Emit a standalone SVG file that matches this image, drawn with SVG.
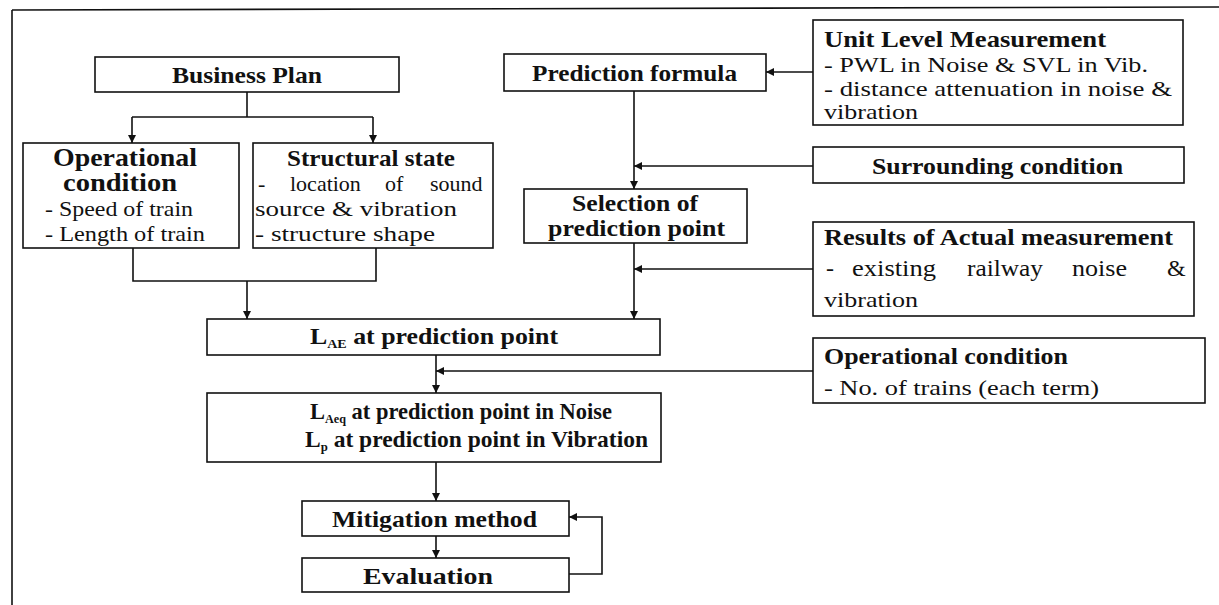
<svg xmlns="http://www.w3.org/2000/svg" width="1219" height="605" viewBox="0 0 1219 605">
<style>
.box{fill:#fff;stroke:#111;stroke-width:1.6}
.c{fill:none;stroke:#111;stroke-width:1.6}
.b{font-family:"Liberation Serif","Times New Roman",Tinos,serif;font-weight:bold;font-size:24px;fill:#111}
.r{font-family:"Liberation Serif","Times New Roman",Tinos,serif;font-size:22px;fill:#111}
.s{font-size:13px}
</style>
<defs>
<marker id="ah" viewBox="0 0 10 10" refX="10" refY="5" markerWidth="8" markerHeight="8" markerUnits="userSpaceOnUse" orient="auto">
<path d="M0,0 L10,5 L0,10 z" fill="#111"/>
</marker>
</defs>
<rect width="1219" height="605" fill="#fff"/>
<g id="frame" class="c">
<line x1="12" y1="10" x2="1219" y2="7"/>
<line x1="12" y1="10" x2="12" y2="605"/>
</g>
<g id="connectors" class="c">
<line x1="247" y1="92" x2="247" y2="117"/>
<line x1="132" y1="117" x2="373" y2="117"/>
<line x1="132" y1="117" x2="132" y2="143" marker-end="url(#ah)"/>
<line x1="373" y1="117" x2="373" y2="143" marker-end="url(#ah)"/>
<polyline points="133,248 133,281 376,281 376,248"/>
<line x1="247" y1="281" x2="247" y2="319" marker-end="url(#ah)"/>
<line x1="813" y1="72" x2="766" y2="72" marker-end="url(#ah)"/>
<line x1="634" y1="91" x2="634" y2="189" marker-end="url(#ah)"/>
<line x1="813" y1="166" x2="634" y2="166" marker-end="url(#ah)"/>
<line x1="634" y1="243" x2="634" y2="319" marker-end="url(#ah)"/>
<line x1="813" y1="269" x2="634" y2="269" marker-end="url(#ah)"/>
<line x1="436" y1="355" x2="436" y2="393" marker-end="url(#ah)"/>
<line x1="813" y1="371" x2="436" y2="371" marker-end="url(#ah)"/>
<line x1="436" y1="462" x2="436" y2="501" marker-end="url(#ah)"/>
<line x1="436" y1="536" x2="436" y2="558" marker-end="url(#ah)"/>
<polyline points="569,574 602,574 602,517 569,517" marker-end="url(#ah)"/>
</g>
<g id="business-plan">
<rect class="box" x="95" y="57" width="304" height="35"/>
<text class="b" x="172" y="83" textLength="150" lengthAdjust="spacingAndGlyphs">Business Plan</text>
</g>
<g id="operational-condition">
<rect class="box" x="23" y="143" width="216" height="105"/>
<text class="b" x="53" y="166" textLength="144" lengthAdjust="spacingAndGlyphs" style="font-size:25px">Operational</text>
<text class="b" x="63" y="191" textLength="114" lengthAdjust="spacingAndGlyphs" style="font-size:25px">condition</text>
<text class="r" x="45" y="216" textLength="148" lengthAdjust="spacingAndGlyphs">- Speed of train</text>
<text class="r" x="45" y="241" textLength="160" lengthAdjust="spacingAndGlyphs">- Length of train</text>
</g>
<g id="structural-state">
<rect class="box" x="253" y="143" width="240" height="105"/>
<text class="b" x="287" y="166" textLength="168" lengthAdjust="spacingAndGlyphs">Structural state</text>
<text class="r" y="191"><tspan x="258">-</tspan><tspan x="290">location</tspan><tspan x="385">of</tspan><tspan x="430">sound</tspan></text>
<text class="r" x="255" y="216" textLength="202" lengthAdjust="spacingAndGlyphs">source &amp; vibration</text>
<text class="r" x="255" y="241" textLength="180" lengthAdjust="spacingAndGlyphs">- structure shape</text>
</g>
<g id="prediction-formula">
<rect class="box" x="504" y="54" width="262" height="37"/>
<text class="b" x="532" y="81" textLength="205" lengthAdjust="spacingAndGlyphs">Prediction formula</text>
</g>
<g id="unit-level">
<rect class="box" x="813" y="20" width="370" height="105"/>
<text class="b" x="824" y="47" textLength="282" lengthAdjust="spacingAndGlyphs">Unit Level Measurement</text>
<text class="r" x="824" y="72" textLength="324" lengthAdjust="spacingAndGlyphs">- PWL in Noise &amp; SVL in Vib.</text>
<text class="r" x="824" y="96" textLength="348" lengthAdjust="spacingAndGlyphs">- distance attenuation in noise &amp;</text>
<text class="r" x="824" y="119" textLength="94" lengthAdjust="spacingAndGlyphs">vibration</text>
</g>
<g id="surrounding-condition">
<rect class="box" x="813" y="147" width="371" height="36"/>
<text class="b" x="872" y="174" textLength="251" lengthAdjust="spacingAndGlyphs">Surrounding condition</text>
</g>
<g id="selection">
<rect class="box" x="524" y="189" width="223" height="54"/>
<text class="b" x="572" y="211" textLength="126" lengthAdjust="spacingAndGlyphs">Selection of</text>
<text class="b" x="548" y="236" textLength="177" lengthAdjust="spacingAndGlyphs">prediction point</text>
</g>
<g id="results">
<rect class="box" x="813" y="222" width="381" height="94"/>
<text class="b" x="824" y="245" textLength="349" lengthAdjust="spacingAndGlyphs">Results of Actual measurement</text>
<text class="r" y="276" style="font-size:24px"><tspan x="826">-</tspan><tspan x="852" textLength="84" lengthAdjust="spacingAndGlyphs">existing</tspan><tspan x="967" textLength="76" lengthAdjust="spacingAndGlyphs">railway</tspan><tspan x="1072" textLength="55" lengthAdjust="spacingAndGlyphs">noise</tspan><tspan x="1167">&amp;</tspan></text>
<text class="r" x="824" y="307" textLength="94" lengthAdjust="spacingAndGlyphs">vibration</text>
</g>
<g id="lae">
<rect class="box" x="207" y="319" width="453" height="36"/>
<text class="b" x="310" y="344" textLength="248" lengthAdjust="spacingAndGlyphs">L<tspan class="s" dy="4">AE</tspan><tspan dy="-4"> at prediction point</tspan></text>
</g>
<g id="operational-condition-2">
<rect class="box" x="813" y="338" width="392" height="65"/>
<text class="b" x="824" y="364" textLength="244" lengthAdjust="spacingAndGlyphs">Operational condition</text>
<text class="r" x="824" y="395" textLength="275" lengthAdjust="spacingAndGlyphs">- No. of trains (each term)</text>
</g>
<g id="laeq">
<rect class="box" x="207" y="393" width="454" height="69"/>
<text class="b" x="310" y="419" textLength="302" lengthAdjust="spacingAndGlyphs">L<tspan class="s" dy="4">Aeq</tspan><tspan dy="-4"> at prediction point in Noise</tspan></text>
<text class="b" x="305" y="447" textLength="343" lengthAdjust="spacingAndGlyphs">L<tspan class="s" dy="4">p</tspan><tspan dy="-4"> at prediction point in Vibration</tspan></text>
</g>
<g id="mitigation">
<rect class="box" x="302" y="501" width="267" height="35"/>
<text class="b" x="332" y="527" textLength="205" lengthAdjust="spacingAndGlyphs">Mitigation method</text>
</g>
<g id="evaluation">
<rect class="box" x="302" y="558" width="267" height="34"/>
<text class="b" x="363" y="584" textLength="130" lengthAdjust="spacingAndGlyphs">Evaluation</text>
</g>
</svg>
